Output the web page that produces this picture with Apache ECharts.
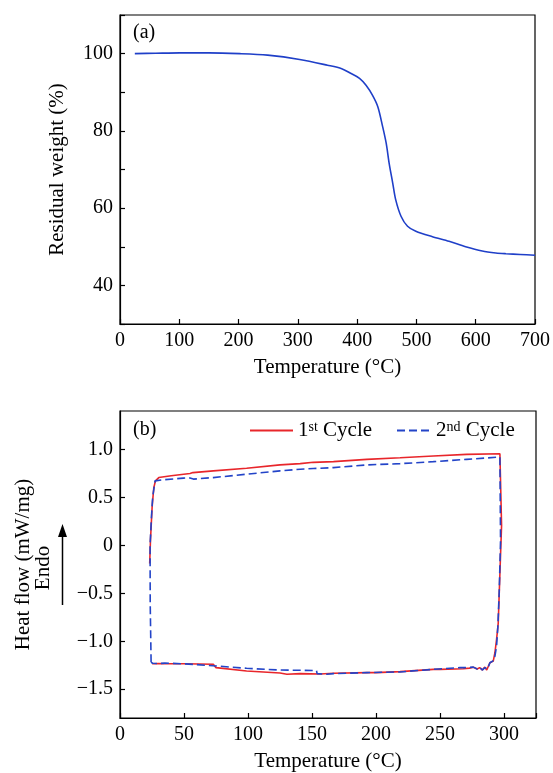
<!DOCTYPE html>
<html>
<head>
<meta charset="utf-8">
<script src="https://cdn.jsdelivr.net/npm/echarts@6/dist/echarts.min.js"></script>
<style>
html,body{margin:0;padding:0;background:#fff;}
#chart{width:553px;height:773px;}
</style>
</head>
<body>
<div id="chart"></div>
<script>
// (a) TGA
var tgaTemp = [25, 60, 101, 150, 202, 249, 303, 350, 374, 389, 404, 415, 426, 435, 443, 449, 454, 460, 465, 474, 485, 499, 527, 555, 583, 611, 634, 651, 675, 700];
var tgaWeight = [100.0, 100.1, 100.2, 100.2, 100.0, 99.6, 98.5, 97.0, 96.1, 94.9, 93.6, 91.8, 89.2, 86.2, 81.1, 76.8, 71.6, 66.5, 62.2, 57.9, 55.3, 54.0, 52.6, 51.4, 50.0, 48.9, 48.4, 48.2, 48.0, 47.8];

// (b) DSC, 1st cycle
var dsc1Temp = [23.2, 23.8, 25.1, 26.4, 27.7, 30.3, 40, 54.7, 57, 72.9, 98.9, 125, 140.8, 151, 166.8, 192.8, 218.8, 244.8, 270.8, 296.8, 297.6, 298.1, 296.8, 295.5, 294.2, 292.9, 291.6, 289, 286.5, 285, 283, 281, 279, 276, 273, 268.2, 250, 244.8, 218.8, 200, 192.8, 166.8, 156.4, 140.8, 130.4, 125, 98.9, 75, 74.5, 72.9, 50, 35, 30, 25.1];
var dsc1Flow = [-0.19, 0.05, 0.40, 0.60, 0.672, 0.706, 0.725, 0.748, 0.758, 0.776, 0.803, 0.838, 0.851, 0.865, 0.872, 0.896, 0.913, 0.931, 0.948, 0.955, 0.955, 0.207, -0.293, -0.81, -0.98, -1.12, -1.207, -1.224, -1.30, -1.27, -1.30, -1.275, -1.29, -1.27, -1.28, -1.286, -1.293, -1.293, -1.317, -1.327, -1.327, -1.334, -1.341, -1.337, -1.344, -1.331, -1.31, -1.275, -1.265, -1.24, -1.235, -1.235, -1.232, -1.234];

// (b) DSC, 2nd cycle
var dsc2Temp = [24.3, 23.6, 23.5, 24.6, 25.5, 27.4, 33.9, 49.5, 54, 57.3, 72.9, 98.9, 125, 140.8, 151, 166.8, 192.8, 218.8, 244.8, 270.8, 296.8, 297.3, 297.3, 296.3, 295.2, 294.2, 292.9, 292, 289, 287, 285.1, 283, 281, 279, 276, 270, 265.6, 244.8, 218.8, 192.8, 166.8, 161.6, 154, 153.5, 140.8, 125, 98.9, 75.5, 74.5, 50, 35, 30, 25.6, 24.3];
var dsc2Flow = [-1.22, -0.6, 0.0, 0.3, 0.5, 0.672, 0.683, 0.70, 0.705, 0.69, 0.706, 0.741, 0.776, 0.793, 0.80, 0.81, 0.838, 0.851, 0.872, 0.896, 0.92, 0.92, 0.05, -0.465, -0.85, -1.05, -1.155, -1.20, -1.224, -1.29, -1.275, -1.30, -1.27, -1.29, -1.27, -1.275, -1.275, -1.293, -1.32, -1.327, -1.337, -1.344, -1.337, -1.305, -1.303, -1.30, -1.282, -1.258, -1.24, -1.235, -1.228, -1.232, -1.23, -1.22];

var tgaXTicks = [0, 700, 100];
var tgaYLabels = [40, 60, 80, 100];
var dscXTicks = [0, 325, 50];
var dscYLabels = [-1.5, -1.0, -0.5, 0, 0.5, 1.0];

function zip(a, b) { return a.map(function (v, i) { return [v, b[i]]; }); }

var FONT = 'Liberation Serif';
var chart = echarts.init(document.getElementById('chart'));

function baseAxis(extra) {
  var ax = {
    type: 'value',
    axisLine: { show: true, onZero: false, lineStyle: { color: '#000', width: 1.2 } },
    axisTick: { show: true, inside: true, length: 5, lineStyle: { color: '#000', width: 1.2 } },
    splitLine: { show: false },
    axisLabel: { color: '#000', fontFamily: FONT, fontSize: 20, margin: 7 },
    nameTextStyle: { color: '#000', fontFamily: FONT, fontSize: 21 }
  };
  for (var k in extra) {
    if (typeof extra[k] === 'object' && !Array.isArray(extra[k]) && ax[k]) {
      for (var j in extra[k]) ax[k][j] = extra[k][j];
    } else ax[k] = extra[k];
  }
  return ax;
}

function fmtMinus(v) {
  if (Math.abs(v) < 1e-9) return '0';
  return (v < 0 ? '\u2212' : '') + Math.abs(v).toFixed(1);
}

function legendFor(name, text, left, width) {
  return {
    data: [name], left: left, top: 420, padding: 0, itemWidth: width, itemHeight: 14, itemGap: 0,
    itemStyle: { opacity: 0, borderWidth: 0 },
    formatter: function () { return text; },
    textStyle: { color: '#000', fontFamily: FONT, fontSize: 21,
      rich: { sup: { fontFamily: FONT, fontSize: 14, verticalAlign: 'top', lineHeight: 14 } } }
  };
}

var option = {
  animation: false,
  backgroundColor: '#fff',
  grid: [
    { left: 120, top: 15, width: 416, height: 309, show: true, borderColor: '#000', borderWidth: 1.2, containLabel: false },
    { left: 120, top: 411, width: 416, height: 308, show: true, borderColor: '#000', borderWidth: 1.2, containLabel: false }
  ],
  xAxis: [
    baseAxis({
      gridIndex: 0, min: tgaXTicks[0], max: tgaXTicks[1], interval: tgaXTicks[2],
      name: 'Temperature (\u00B0C)', nameLocation: 'middle', nameGap: 33
    }),
    baseAxis({
      gridIndex: 1, min: dscXTicks[0], max: dscXTicks[1], interval: dscXTicks[2],
      name: 'Temperature (\u00B0C)', nameLocation: 'middle', nameGap: 33,
      axisLabel: { formatter: function (v) { return (v % 50 === 0) ? String(v) : ''; } }
    })
  ],
  yAxis: [
    baseAxis({
      gridIndex: 0, min: 30, max: 110, interval: 10,
      name: 'Residual weight (%)', nameLocation: 'middle', nameGap: 52,
      axisLabel: { formatter: function (v) { return tgaYLabels.indexOf(v) >= 0 ? String(v) : ''; } }
    }),
    baseAxis({
      gridIndex: 1, min: -1.8, max: 1.4,
      name: 'Heat flow (mW/mg)', nameLocation: 'middle', nameGap: 86,
      axisLabel: { customValues: dscYLabels, formatter: fmtMinus },
      axisTick: { customValues: dscYLabels }
    })
  ],
  legend: [
    legendFor('1st Cycle', '1{sup|st} Cycle', 249, 43),
    legendFor('2nd Cycle', '2{sup|nd} Cycle', 396, 34)
  ],
  graphic: [
    { type: 'text', left: 133, top: 23, style: { text: '(a)', font: '20px "Liberation Serif"', fill: '#000' } },
    { type: 'text', left: 133, top: 420, style: { text: '(b)', font: '20px "Liberation Serif"', fill: '#000' } },
    { type: 'text', x: 43, y: 568, rotation: Math.PI / 2,
      style: { text: 'Endo', font: '21px "Liberation Serif"', fill: '#000', align: 'center', verticalAlign: 'middle' } },
    { type: 'line', shape: { x1: 62.5, y1: 605, x2: 62.5, y2: 534 }, style: { stroke: '#000', lineWidth: 1.5 } },
    { type: 'polygon', shape: { points: [[62.5, 524], [58, 537], [67, 537]] }, style: { fill: '#000' } }
  ],
  series: [
    {
      name: 'TGA', type: 'line', xAxisIndex: 0, yAxisIndex: 0,
      data: zip(tgaTemp, tgaWeight), showSymbol: false, symbol: 'none', smooth: 0.3,
      lineStyle: { color: '#1f3fc8', width: 1.6 }, itemStyle: { color: '#1f3fc8' }
    },
    {
      name: '1st Cycle', type: 'line', xAxisIndex: 1, yAxisIndex: 1,
      data: zip(dsc1Temp, dsc1Flow), showSymbol: false, symbol: 'none',
      lineStyle: { color: '#e8262b', width: 1.6 }, itemStyle: { color: '#e8262b' }
    },
    {
      name: '2nd Cycle', type: 'line', xAxisIndex: 1, yAxisIndex: 1,
      data: zip(dsc2Temp, dsc2Flow), showSymbol: false, symbol: 'none',
      lineStyle: { color: '#2344c8', width: 1.6, type: [8, 4] }, itemStyle: { color: '#2344c8' }
    }
  ]
};
chart.setOption(option);
</script>
</body>
</html>
